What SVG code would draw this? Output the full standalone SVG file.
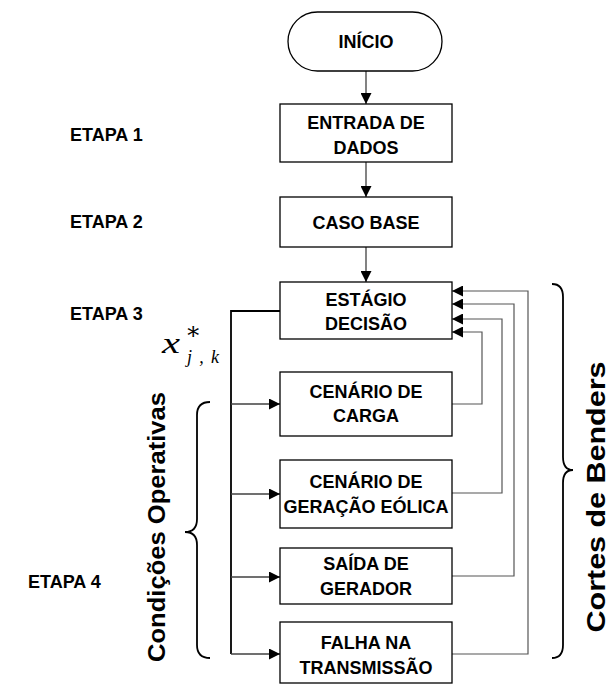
<svg xmlns="http://www.w3.org/2000/svg" width="611" height="684" viewBox="0 0 611 684">
<style>
.box{fill:#fff;stroke:#000;stroke-width:1.3}
.t{font-family:"Liberation Sans",Arial,sans-serif;font-weight:bold;font-size:18px;fill:#000;text-anchor:middle}
.lbl{font-family:"Liberation Sans",Arial,sans-serif;font-weight:bold;font-size:18px;fill:#000}
.big{font-family:"Liberation Sans",Arial,sans-serif;font-weight:bold;fill:#000;text-anchor:middle}
.flow{fill:none;stroke:#404040;stroke-width:1.3}
.main{fill:none;stroke:#000;stroke-width:1.8}
.fb{fill:none;stroke:#555;stroke-width:1.2}
.brace{fill:none;stroke:#000;stroke-width:1.8}
.math{font-family:"Liberation Serif","DejaVu Serif",serif;font-style:italic;fill:#000}
</style>
<defs>
<marker id="ah" viewBox="0 0 10 10" refX="10" refY="5" markerWidth="11" markerHeight="11" markerUnits="userSpaceOnUse" orient="auto">
<path d="M0,0 L10,5 L0,10 z" fill="#000"/>
</marker>
</defs>
<rect width="611" height="684" fill="#fff"/>

<g id="connectors">
<line class="flow" x1="366" y1="71" x2="366" y2="104" marker-end="url(#ah)"/>
<line class="flow" x1="366" y1="162" x2="366" y2="197" marker-end="url(#ah)"/>
<line class="flow" x1="366" y1="247" x2="366" y2="282" marker-end="url(#ah)"/>
<polyline class="main" points="280,311 231,311 231,654"/>
<line class="flow" x1="231" y1="404" x2="280" y2="404" marker-end="url(#ah)"/>
<line class="flow" x1="231" y1="494" x2="280" y2="494" marker-end="url(#ah)"/>
<line class="flow" x1="231" y1="577" x2="280" y2="577" marker-end="url(#ah)"/>
<line class="flow" x1="231" y1="654" x2="280" y2="654" marker-end="url(#ah)"/>
<polyline class="fb" points="452,654 528,654 528,291 452,291" marker-end="url(#ah)"/>
<polyline class="fb" points="452,576 514,576 514,304 452,304" marker-end="url(#ah)"/>
<polyline class="fb" points="452,493 502,493 502,319 452,319" marker-end="url(#ah)"/>
<polyline class="fb" points="452,404 482,404 482,332 452,332" marker-end="url(#ah)"/>
</g>

<g id="inicio">
<rect class="box" x="288" y="12" width="154" height="59" rx="29.5"/>
<text class="t" x="366" y="48">INÍCIO</text>
</g>
<g id="entrada">
<rect class="box" x="280" y="104" width="172" height="58"/>
<text class="t" x="366" y="129">ENTRADA DE</text>
<text class="t" x="366" y="154">DADOS</text>
</g>
<g id="caso-base">
<rect class="box" x="280" y="197" width="172" height="50"/>
<text class="t" x="366" y="229">CASO BASE</text>
</g>
<g id="estagio">
<rect class="box" x="280" y="282" width="172" height="57"/>
<text class="t" x="366" y="306">ESTÁGIO</text>
<text class="t" x="366" y="330">DECISÃO</text>
</g>
<g id="carga">
<rect class="box" x="280" y="372" width="172" height="64"/>
<text class="t" x="366" y="398">CENÁRIO DE</text>
<text class="t" x="366" y="422">CARGA</text>
</g>
<g id="eolica">
<rect class="box" x="280" y="460" width="172" height="68"/>
<text class="t" x="366" y="488">CENÁRIO DE</text>
<text class="t" x="366" y="513">GERAÇÃO EÓLICA</text>
</g>
<g id="saida">
<rect class="box" x="280" y="548" width="172" height="56"/>
<text class="t" x="366" y="570">SAÍDA DE</text>
<text class="t" x="366" y="595">GERADOR</text>
</g>
<g id="falha">
<rect class="box" x="280" y="622" width="172" height="61"/>
<text class="t" x="366" y="649">FALHA NA</text>
<text class="t" x="366" y="674">TRANSMISSÃO</text>
</g>

<g id="etapas">
<text class="lbl" x="70" y="141">ETAPA 1</text>
<text class="lbl" x="70" y="228">ETAPA 2</text>
<text class="lbl" x="70" y="320">ETAPA 3</text>
<text class="lbl" x="28" y="588">ETAPA 4</text>
</g>

<g id="xjk">
<text class="math" font-size="30" transform="translate(162,353) scale(1.35,1)">x</text>
<text class="math" x="185" y="339" font-size="24" font-style="normal">∗</text>
<text class="math" x="187" y="363" font-size="18" textLength="32" lengthAdjust="spacing">j,k</text>
</g>

<g id="brace-left">
<path class="brace" d="M210,402 Q197,402 197,415 L197,519 Q197,532 185,532 Q197,532 197,545 L197,645 Q197,658 210,658"/>
<text class="big" font-size="24" transform="translate(165,527) rotate(-90)" textLength="270" lengthAdjust="spacingAndGlyphs">Condições Operativas</text>
</g>
<g id="brace-right">
<path class="brace" d="M552,284 Q563,284 563,297 L563,457 Q563,470 573,470 Q563,470 563,483 L563,645 Q563,658 552,658"/>
<text class="big" font-size="25" transform="translate(605,497) rotate(-90)" textLength="271" lengthAdjust="spacingAndGlyphs">Cortes de Benders</text>
</g>
</svg>
